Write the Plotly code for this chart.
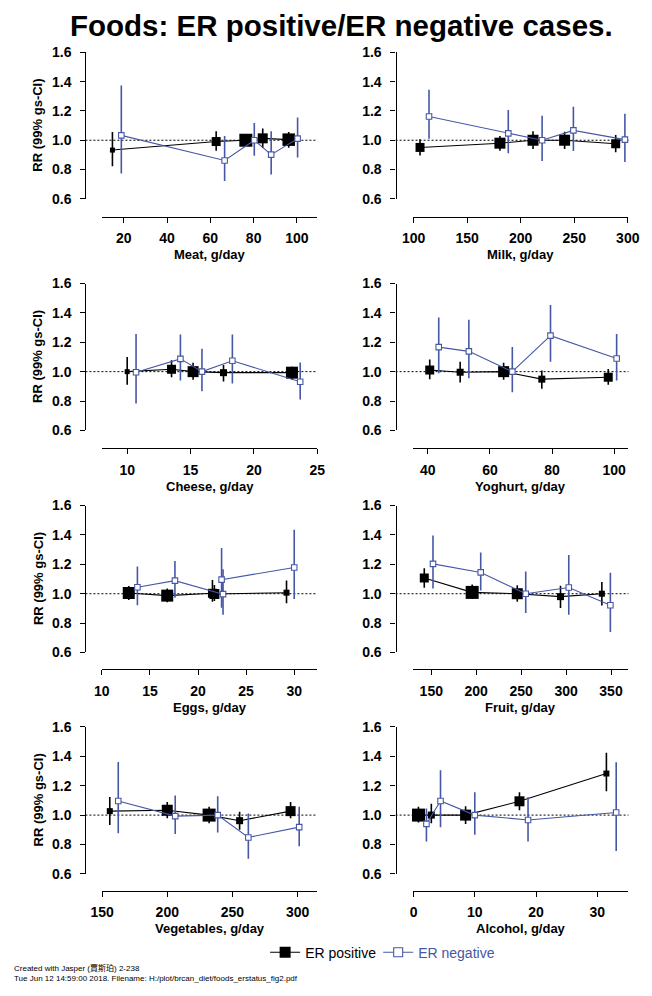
import plotly.graph_objects as go

# RR and 99% group-specific CI.
# ER positive (black boxes) and ER negative (blue open boxes)

meat_pos_x = [14.8, 62.7, 76.4, 84.2, 96.2]
meat_pos_rr = [0.933, 0.991, 1.0, 1.013, 1.004]
meat_pos_lo = [0.822, 0.929, 0.965, 0.947, 0.949]
meat_pos_hi = [1.056, 1.062, 1.035, 1.08, 1.057]
meat_neg_x = [18.9, 66.6, 80.3, 88.1, 100.3]
meat_neg_rr = [1.033, 0.862, 1.0, 0.902, 1.011]
meat_neg_lo = [0.773, 0.722, 0.895, 0.767, 0.882]
meat_neg_hi = [1.373, 1.029, 1.118, 1.062, 1.155]

milk_pos_x = [106, 180.6, 211.5, 241, 288.7]
milk_pos_rr = [0.951, 0.98, 1.0, 1.0, 0.976]
milk_pos_lo = [0.896, 0.929, 0.94, 0.94, 0.918]
milk_pos_hi = [1.007, 1.029, 1.062, 1.058, 1.036]
milk_neg_x = [114.4, 188.4, 220, 249.2, 297.3]
milk_neg_rr = [1.162, 1.047, 1.0, 1.067, 1.004]
milk_neg_lo = [1.011, 0.911, 0.858, 0.927, 0.851]
milk_neg_hi = [1.344, 1.207, 1.167, 1.229, 1.18]

cheese_pos_x = [10.0, 13.5, 15.2, 17.6, 23.0]
cheese_pos_rr = [1.0, 1.016, 1.0, 0.993, 0.993]
cheese_pos_lo = [0.911, 0.962, 0.944, 0.933, 0.944]
cheese_pos_hi = [1.10, 1.078, 1.06, 1.045, 1.033]
cheese_neg_x = [10.7, 14.2, 15.9, 18.3, 23.65]
cheese_neg_rr = [0.996, 1.087, 1.0, 1.074, 0.931]
cheese_neg_lo = [0.783, 0.94, 0.866, 0.92, 0.81]
cheese_neg_hi = [1.257, 1.252, 1.156, 1.252, 1.062]

yoghurt_pos_x = [40.6, 50.4, 64.4, 76.7, 98.1]
yoghurt_pos_rr = [1.011, 0.996, 1.0, 0.949, 0.962]
yoghurt_pos_lo = [0.949, 0.926, 0.944, 0.884, 0.911]
yoghurt_pos_hi = [1.083, 1.067, 1.06, 1.007, 1.018]
yoghurt_neg_x = [43.5, 53.2, 67.2, 79.5, 100.8]
yoghurt_neg_rr = [1.167, 1.138, 1.0, 1.245, 1.089]
yoghurt_neg_lo = [0.989, 0.955, 0.859, 1.067, 0.94]
yoghurt_neg_hi = [1.368, 1.353, 1.167, 1.453, 1.257]

eggs_pos_x = [12.8, 16.8, 21.5, 21.7, 29.2]
eggs_pos_rr = [1.005, 0.987, 1.003, 0.998, 1.007]
eggs_pos_lo = [0.958, 0.942, 0.946, 0.95, 0.935]
eggs_pos_hi = [1.053, 1.035, 1.093, 1.06, 1.09]
eggs_neg_x = [13.7, 17.6, 22.6, 22.45, 30.0]
eggs_neg_rr = [1.044, 1.089, 0.997, 1.096, 1.178]
eggs_neg_lo = [0.922, 0.973, 0.857, 0.904, 0.964]
eggs_neg_hi = [1.185, 1.222, 1.167, 1.311, 1.436]

fruit_pos_x = [142.2, 195.5, 245.7, 293.8, 339.8]
fruit_pos_rr = [1.107, 1.009, 1.0, 0.98, 1.0]
fruit_pos_lo = [1.04, 0.964, 0.946, 0.902, 0.92]
fruit_pos_hi = [1.174, 1.062, 1.058, 1.054, 1.08]
fruit_neg_x = [151.9, 205, 255.1, 303, 349.3]
fruit_neg_rr = [1.203, 1.145, 1.0, 1.042, 0.922]
fruit_neg_lo = [1.036, 1.022, 0.868, 0.857, 0.739]
fruit_neg_hi = [1.397, 1.281, 1.152, 1.263, 1.143]

veg_pos_x = [155.9, 200, 232.1, 255.5, 294.6]
veg_pos_rr = [1.027, 1.033, 1.0, 0.962, 1.027]
veg_pos_lo = [0.933, 0.978, 0.944, 0.9, 0.978]
veg_pos_hi = [1.123, 1.089, 1.056, 1.022, 1.089]
veg_neg_x = [162.4, 206.1, 238.7, 262.2, 301.2]
veg_neg_rr = [1.096, 0.993, 1.0, 0.848, 0.918]
veg_neg_lo = [0.877, 0.871, 0.882, 0.703, 0.788]
veg_neg_hi = [1.362, 1.134, 1.129, 1.011, 1.056]

alcohol_pos_x = [0.8, 2.9, 8.5, 17.3, 31.5]
alcohol_pos_rr = [1.0, 1.0, 1.0, 1.094, 1.283]
alcohol_pos_lo = [0.949, 0.944, 0.94, 1.033, 1.163]
alcohol_pos_hi = [1.056, 1.078, 1.06, 1.156, 1.424]
alcohol_neg_x = [2.1, 4.4, 10.0, 18.7, 33.1]
alcohol_neg_rr = [0.94, 1.096, 1.0, 0.967, 1.018]
alcohol_neg_lo = [0.821, 0.917, 0.866, 0.821, 0.755]
alcohol_neg_hi = [1.045, 1.306, 1.156, 1.122, 1.36]

# axis tick values
meat_ticks = [20, 40, 60, 80, 100]
milk_ticks = [100, 150, 200, 250, 300]
cheese_ticks = [10, 15, 20, 25]
yoghurt_ticks = [40, 60, 80, 100]
eggs_ticks = [10, 15, 20, 25, 30]
fruit_ticks = [150, 200, 250, 300, 350]
veg_ticks = [150, 200, 250, 300]
alcohol_ticks = [0, 10, 20, 30]
rr_ticks = [0.6, 0.8, 1.0, 1.2, 1.4, 1.6]

panels = [
    ("Meat, g/day", meat_pos_x, meat_pos_rr, meat_pos_lo, meat_pos_hi,
     meat_neg_x, meat_neg_rr, meat_neg_lo, meat_neg_hi, meat_ticks),
    ("Milk, g/day", milk_pos_x, milk_pos_rr, milk_pos_lo, milk_pos_hi,
     milk_neg_x, milk_neg_rr, milk_neg_lo, milk_neg_hi, milk_ticks),
    ("Cheese, g/day", cheese_pos_x, cheese_pos_rr, cheese_pos_lo, cheese_pos_hi,
     cheese_neg_x, cheese_neg_rr, cheese_neg_lo, cheese_neg_hi, cheese_ticks),
    ("Yoghurt, g/day", yoghurt_pos_x, yoghurt_pos_rr, yoghurt_pos_lo, yoghurt_pos_hi,
     yoghurt_neg_x, yoghurt_neg_rr, yoghurt_neg_lo, yoghurt_neg_hi, yoghurt_ticks),
    ("Eggs, g/day", eggs_pos_x, eggs_pos_rr, eggs_pos_lo, eggs_pos_hi,
     eggs_neg_x, eggs_neg_rr, eggs_neg_lo, eggs_neg_hi, eggs_ticks),
    ("Fruit, g/day", fruit_pos_x, fruit_pos_rr, fruit_pos_lo, fruit_pos_hi,
     fruit_neg_x, fruit_neg_rr, fruit_neg_lo, fruit_neg_hi, fruit_ticks),
    ("Vegetables, g/day", veg_pos_x, veg_pos_rr, veg_pos_lo, veg_pos_hi,
     veg_neg_x, veg_neg_rr, veg_neg_lo, veg_neg_hi, veg_ticks),
    ("Alcohol, g/day", alcohol_pos_x, alcohol_pos_rr, alcohol_pos_lo, alcohol_pos_hi,
     alcohol_neg_x, alcohol_neg_rr, alcohol_neg_lo, alcohol_neg_hi, alcohol_ticks),
]

# ---- styling / layout ----
W, H = 652, 996
BLUE = "#4657a6"
FONT = "Liberation Sans, Arial, sans-serif"

# x-axis ranges (the span of each drawn x-axis line)
x_ranges = [[9.9, 109.4], [99.4, 300.6], [8.0, 25.0], [35.2, 104.6],
            [10.0, 32.4], [129.6, 369.4], [149.8, 315.1], [-0.1, 35.1]]
# black box sizes (px), scaled by weight in the original
box_px = [[5, 9, 13, 10, 12.5], [9, 11, 11, 11, 9], [5, 9, 11, 7, 12],
          [9, 7, 11, 7, 9], [12, 12, 9, 10, 6], [9, 13, 11, 7, 6],
          [6, 11, 13, 7, 10], [13, 7, 11, 10, 6]]

yaxis_px = [77, 398]               # y-axis line, per column
xspan_px = [(94, 317), (416, 639)]  # x-axis line, per column
row_top = [45, 280, 505.7, 730.7]   # pixel row of RR=1.6
row_bot = [194, 429.3, 655, 880]    # pixel row of RR=0.6
row_xline = [212, 447, 672, 897]    # x-axis line


def fx(p):
    return p / W


def fy(p):
    return 1 - p / H


tickfont = dict(family=FONT, size=14, color="black", weight="bold")
labfont = dict(family=FONT, size=13, color="black", weight="bold")
fig = go.Figure()
annotations = []
shapes = []

for i, (label, px, prr, plo, phi, nx, nrr, nlo, nhi, xticks) in enumerate(panels):
    n = i + 1
    row, col = divmod(i, 2)
    sfx = "" if n == 1 else str(n)
    xa, ya = "x" + sfx, "y" + sfx

    fig.add_trace(go.Scatter(
        x=px, y=prr, xaxis=xa, yaxis=ya, mode="lines+markers",
        line=dict(color="black", width=1.1),
        marker=dict(symbol="square", size=box_px[i], color="black", opacity=1,
                    line=dict(width=0)),
        error_y=dict(type="data", symmetric=False,
                     array=[h - r for h, r in zip(phi, prr)],
                     arrayminus=[r - l for r, l in zip(prr, plo)],
                     color="black", thickness=1.6, width=0),
        cliponaxis=False, showlegend=False, hoverinfo="skip"))
    fig.add_trace(go.Scatter(
        x=nx, y=nrr, xaxis=xa, yaxis=ya, mode="lines+markers",
        line=dict(color=BLUE, width=1.1),
        marker=dict(symbol="square", size=5.5, color="white", opacity=1,
                    line=dict(color=BLUE, width=1.1)),
        error_y=dict(type="data", symmetric=False,
                     array=[h - r for h, r in zip(nhi, nrr)],
                     arrayminus=[r - l for r, l in zip(nrr, nlo)],
                     color=BLUE, thickness=1.6, width=0),
        cliponaxis=False, showlegend=False, hoverinfo="skip"))

    x0, x1 = xspan_px[col]
    fig.layout["xaxis" + sfx] = dict(
        domain=[fx(x0), fx(x1)], range=x_ranges[i], anchor="free",
        position=fy(row_xline[row]), showline=True, linecolor="black", linewidth=1.2,
        ticks="outside", ticklen=5, tickcolor="black", tickwidth=1.2, tickvals=xticks,
        showgrid=False, zeroline=False, tickfont=tickfont, ticklabelstandoff=4)
    fig.layout["yaxis" + sfx] = dict(
        domain=[fy(row_bot[row]), fy(row_top[row])], range=[0.6, 1.6], anchor="free",
        position=fx(yaxis_px[col]), showline=True, linecolor="black", linewidth=1.2,
        ticks="outside", ticklen=5, tickcolor="black", tickwidth=1.2, tickvals=rr_ticks,
        tickformat=".1f", showgrid=False, zeroline=False, tickfont=tickfont,
        ticklabelstandoff=6)

    # dotted reference line at RR = 1
    shapes.append(dict(type="line", xref="paper", yref=ya + " domain",
                       x0=fx(yaxis_px[col]), x1=fx(x1), y0=0.4, y1=0.4,
                       line=dict(color="black", width=1, dash="2px,2px"), layer="below"))

    annotations.append(dict(text=label, xref="paper", yref="paper",
                            x=fx((x0 + x1) / 2), y=fy(row_xline[row] + 39),
                            xanchor="center", yanchor="middle", showarrow=False,
                            font=labfont))
    if col == 0:
        annotations.append(dict(text="RR (99% gs-CI)", xref="paper", yref="paper",
                                x=fx(28), y=fy((row_top[row] + row_bot[row]) / 2),
                                textangle=-90, xanchor="center", yanchor="middle",
                                showarrow=False, font=labfont))

# legend entries
fig.add_trace(go.Scatter(x=[None], y=[None], mode="lines+markers", name="ER positive",
                         line=dict(color="black", width=1.1),
                         marker=dict(symbol="square", size=11, color="black"),
                         legend="legend"))
fig.add_trace(go.Scatter(x=[None], y=[None], mode="lines+markers", name="ER negative",
                         line=dict(color=BLUE, width=1.1),
                         marker=dict(symbol="square", size=9, color="white",
                                     line=dict(color=BLUE, width=1.1)),
                         legend="legend2"))

annotations.append(dict(text="Foods: ER positive/ER negative cases.", xref="paper", yref="paper",
                        x=fx(342), y=fy(18), xanchor="center", yanchor="middle",
                        showarrow=False,
                        font=dict(family=FONT, size=29.5, color="black", weight="bold")))
annotations.append(dict(text="Created with Jasper (賈斯珀) 2-238", xref="paper", yref="paper",
                        x=fx(1), y=fy(976), xanchor="left", yanchor="middle", showarrow=False,
                        font=dict(family=FONT + ", Noto Sans CJK TC", size=8, color="black")))
annotations.append(dict(text="Tue Jun 12 14:59:00 2018. Filename: H:/plot/brcan_diet/foods_erstatus_fig2.pdf",
                        xref="paper", yref="paper", x=fx(1), y=fy(986),
                        xanchor="left", yanchor="middle", showarrow=False,
                        font=dict(family=FONT, size=8, color="black")))

fig.update_layout(
    width=W, height=H, autosize=False,
    margin=dict(l=0, r=0, t=0, b=0),
    paper_bgcolor="white", plot_bgcolor="white",
    legend=dict(x=fx(263), y=fy(960), xanchor="left", yanchor="middle",
                orientation="h", itemwidth=30, bgcolor="rgba(0,0,0,0)",
                font=dict(family=FONT, size=14, color="black")),
    legend2=dict(x=fx(380), y=fy(960), xanchor="left", yanchor="middle",
                 orientation="h", itemwidth=30, bgcolor="rgba(0,0,0,0)",
                 font=dict(family=FONT, size=14, color=BLUE)),
    annotations=annotations,
    shapes=shapes,
)

# drop the browser's default page margin so the figure sits at (0, 0)
fig.write_html("out.html", config={"displayModeBar": False}, post_script=(
    "document.body.style.margin='0';"
    "document.documentElement.style.overflow='hidden';"))
